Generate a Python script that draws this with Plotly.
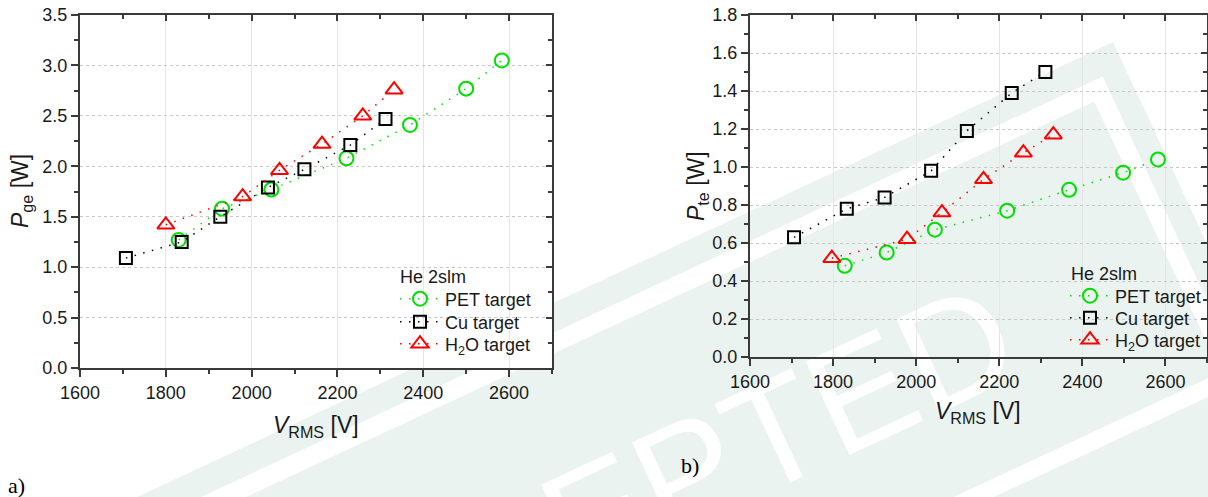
import math
import plotly.graph_objects as go

# ---------------- data ----------------
series_names = ["PET target", "Cu target", "H<sub>2</sub>O target"]
legend_title = "He 2slm"

# panel a) P_ge
v_pet_a = [1830, 1931, 2046, 2221, 2369, 2500, 2583]
p_pet_a = [1.27, 1.58, 1.77, 2.08, 2.41, 2.77, 3.05]
v_cu_a = [1707, 1837, 1927, 2038, 2123, 2230, 2312]
p_cu_a = [1.09, 1.25, 1.50, 1.79, 1.97, 2.21, 2.47]
v_h2o_a = [1800, 1979, 2065, 2164, 2259, 2332]
p_h2o_a = [1.42, 1.70, 1.96, 2.22, 2.50, 2.76]

# panel b) P_te
v_pet_b = [1828, 1929, 2045, 2219, 2368, 2498, 2582]
p_pet_b = [0.48, 0.55, 0.67, 0.77, 0.88, 0.97, 1.04]
v_cu_b = [1706, 1833, 1924, 2036, 2122, 2230, 2311]
p_cu_b = [0.63, 0.78, 0.84, 0.98, 1.19, 1.39, 1.50]
v_h2o_b = [1797, 1978, 2062, 2162, 2258, 2330]
p_h2o_b = [0.52, 0.62, 0.76, 0.935, 1.075, 1.17]

# ---------------- styling ----------------
W, H = 1208, 497
FONT = "Liberation Sans, Arial, sans-serif"
SERIF = "Liberation Serif, Times New Roman, serif"
AX = "#3a3a3a"
TXT = "#1a1a1a"
GREEN, BLACK, RED = "#00e000", "#000000", "#ff0000"
STAMP = "#ebf3f0"
DASH = "1.5px,7.5px"
FS = 18


def px(x):
    return x / W


def py(y):
    return 1 - y / H


fig = go.Figure()

styles = [
    dict(symbol="circle-open", size=14, color=GREEN),
    dict(symbol="square-open", size=12, color=BLACK),
    dict(symbol="triangle-up-open", size=15, color=RED),
]

# one single-entry legend per series so the rows can be spaced like the reference
legend_ids_a = ["legend", "legend2", "legend3"]
legend_ids_b = ["legend4", "legend5", "legend6"]

panels = [
    ("x", "y", legend_ids_a, [(v_pet_a, p_pet_a), (v_cu_a, p_cu_a), (v_h2o_a, p_h2o_a)]),
    ("x2", "y2", legend_ids_b, [(v_pet_b, p_pet_b), (v_cu_b, p_cu_b), (v_h2o_b, p_h2o_b)]),
]
for xa, ya, legs, sers in panels:
    for (vx, vy), st, nm, lg in zip(sers, styles, series_names, legs):
        fig.add_trace(go.Scatter(
            x=vx, y=vy, name=nm, mode="lines+markers",
            xaxis=xa, yaxis=ya, legend=lg,
            line=dict(color=st["color"], width=1.5, dash=DASH),
            marker=dict(symbol=st["symbol"], size=st["size"], color=st["color"],
                        line=dict(color=st["color"], width=2)),
            hoverinfo="skip",
        ))

# dummy traces so the mirror (inside-tick) axes are drawn
for xa, ya in [("x3", "y3"), ("x4", "y4")]:
    fig.add_trace(go.Scatter(x=[None], y=[None], xaxis=xa, yaxis=ya,
                             showlegend=False, hoverinfo="skip", mode="markers"))

x_dom_a = [px(80), px(552)]
y_dom_a = [py(368), py(15)]
x_dom_b = [px(750), px(1207)]
y_dom_b = [py(357), py(15)]

xr = [1600, 2700]


def main_x(dom, anchor):
    return dict(domain=dom, anchor=anchor, range=xr, tick0=1600, dtick=200,
                automargin=False,
                ticks="outside", ticklen=7, tickwidth=2, tickcolor=AX,
                showline=True, linewidth=2, linecolor=AX,
                showgrid=True, gridcolor="#e6e6e6", gridwidth=1,
                zeroline=False,
                minor=dict(dtick=100, tick0=1600, ticks="outside", ticklen=4,
                           tickwidth=1.5, tickcolor=AX, showgrid=False),
                tickfont=dict(family=FONT, size=FS, color=TXT))


def main_y(dom, anchor, rng, dt, mdt):
    return dict(domain=dom, anchor=anchor, range=rng, tick0=0, dtick=dt,
                automargin=False, tickformat=".1f",
                ticks="outside", ticklen=7, tickwidth=2, tickcolor=AX,
                showline=True, linewidth=2, linecolor=AX,
                showgrid=True, gridcolor="#c8c8c8", gridwidth=1, griddash="dot",
                zeroline=False,
                minor=dict(dtick=mdt, tick0=0, ticks="outside", ticklen=4,
                           tickwidth=1.5, tickcolor=AX, showgrid=False),
                tickfont=dict(family=FONT, size=FS, color=TXT))


def top_x(over, anchor):
    return dict(overlaying=over, anchor=anchor, side="top", range=xr, tick0=1600,
                automargin=False,
                dtick=200, ticks="inside", ticklen=6, tickwidth=2, tickcolor=AX,
                showline=True, linewidth=2, linecolor=AX, showgrid=False,
                showticklabels=False, zeroline=False,
                minor=dict(dtick=100, tick0=1600, ticks="inside", ticklen=4,
                           tickwidth=1.5, tickcolor=AX))


def right_y(over, anchor, rng, dt, mdt):
    return dict(overlaying=over, anchor=anchor, side="right", range=rng, tick0=0,
                automargin=False,
                dtick=dt, ticks="inside", ticklen=6, tickwidth=2, tickcolor=AX,
                showline=True, linewidth=2, linecolor=AX, showgrid=False,
                showticklabels=False, zeroline=False,
                minor=dict(dtick=mdt, tick0=0, ticks="inside", ticklen=4,
                           tickwidth=1.5, tickcolor=AX))


# ---------------- watermark ("ACCEPTED" stamp) geometry ----------------
th = math.radians(25)
T0 = (1113, 42)
U = (math.cos(th), -math.sin(th))
V = (math.sin(th), math.cos(th))


def fp(s, t):
    x = T0[0] - s * U[0] + t * V[0]
    y = T0[1] - s * U[1] + t * V[1]
    return px(x), py(y)


def quad(s0, s1, t0, t1):
    pts = [fp(s0, t0), fp(s1, t0), fp(s1, t1), fp(s0, t1)]
    return "M " + " L ".join(f"{a:.5f},{b:.5f}" for a, b in pts) + " Z"


shapes = [
    dict(type="path", path=quad(0, 1700, 0, 800), xref="paper", yref="paper",
         fillcolor=STAMP, line=dict(width=0), layer="below"),
    dict(type="path", path=quad(26, 1700, 27, 46), xref="paper", yref="paper",
         fillcolor="white", line=dict(width=0), layer="below"),
    dict(type="path", path=quad(24, 42, 27, 800), xref="paper", yref="paper",
         fillcolor="white", line=dict(width=0), layer="below"),
    dict(type="path", path=quad(42, 1700, 345, 362), xref="paper", yref="paper",
         fillcolor="white", line=dict(width=0), layer="below"),
    dict(type="rect", xref="paper", yref="paper",
         x0=px(619), x1=px(639), y0=py(495), y1=py(475),
         line=dict(width=0), layer="below",
         label=dict(text="ACCEPTED", textangle=-25, textposition="middle center",
                    font=dict(family=FONT, size=150, color="white"))),
    # white plot background of panel a)
    dict(type="rect", xref="paper", yref="paper",
         x0=x_dom_a[0], x1=x_dom_a[1], y0=y_dom_a[0], y1=y_dom_a[1],
         fillcolor="white", line=dict(width=0), layer="below"),
]

ann_font = dict(family=FONT, size=23, color=TXT)
annotations = [
    dict(x=px(316), y=py(426), text="<i>V</i><sub>RMS</sub> [V]", font=ann_font),
    dict(x=px(22), y=py(191), text="<i>P</i><sub>ge</sub> [W]", font=ann_font,
         textangle=-90),
    dict(x=px(978), y=py(412), text="<i>V</i><sub>RMS</sub> [V]", font=ann_font),
    dict(x=px(697), y=py(186), text="<i>P</i><sub>te</sub> [W]", font=ann_font,
         textangle=-90),
    dict(x=px(16), y=py(485), text="a)", font=dict(family=SERIF, size=22, color="black")),
    dict(x=px(690), y=py(465), text="b)", font=dict(family=SERIF, size=22, color="black")),
]
for a in annotations:
    a.update(xref="paper", yref="paper", showarrow=False,
             xanchor="center", yanchor="middle")

# legend titles
for tx, ty in [(398, 277), (1069, 274)]:
    annotations.append(dict(x=px(tx), y=py(ty), xref="paper", yref="paper",
                            text=legend_title, showarrow=False,
                            xanchor="left", yanchor="middle",
                            font=dict(family=FONT, size=FS, color=TXT)))


def legend_cfg(x, y):
    return dict(x=px(x), y=py(y), xref="paper", yref="paper",
                xanchor="left", yanchor="middle",
                bgcolor="rgba(0,0,0,0)", borderwidth=0, itemwidth=40,
                font=dict(family=FONT, size=FS, color=TXT),
                tracegroupgap=0)


legend_rows_a = [299, 322, 344]
legend_rows_b = [296, 318, 340]
legend_layout = {}
for lg, ry in zip(legend_ids_a, legend_rows_a):
    legend_layout[lg] = legend_cfg(395, ry)
for lg, ry in zip(legend_ids_b, legend_rows_b):
    legend_layout[lg] = legend_cfg(1065, ry)

fig.update_layout(
    template="none",
    width=W, height=H, autosize=False,
    margin=dict(l=0, r=0, t=0, b=0, pad=0),
    paper_bgcolor="white", plot_bgcolor="rgba(0,0,0,0)",
    font=dict(family=FONT, size=FS, color=TXT),
    showlegend=True,
    hovermode=False,
    xaxis=main_x(x_dom_a, "y"),
    yaxis=main_y(y_dom_a, "x", [0, 3.5], 0.5, 0.25),
    xaxis2=main_x(x_dom_b, "y2"),
    yaxis2=main_y(y_dom_b, "x2", [0, 1.8], 0.2, 0.1),
    xaxis3=top_x("x", "y"),
    yaxis3=right_y("y", "x", [0, 3.5], 0.5, 0.25),
    xaxis4=top_x("x2", "y2"),
    yaxis4=right_y("y2", "x2", [0, 1.8], 0.2, 0.1),
    shapes=shapes,
    annotations=annotations,
    **legend_layout,
)

fig.write_html("out.html", config={"displayModeBar": False},
               post_script="document.body.style.margin='0px';")
